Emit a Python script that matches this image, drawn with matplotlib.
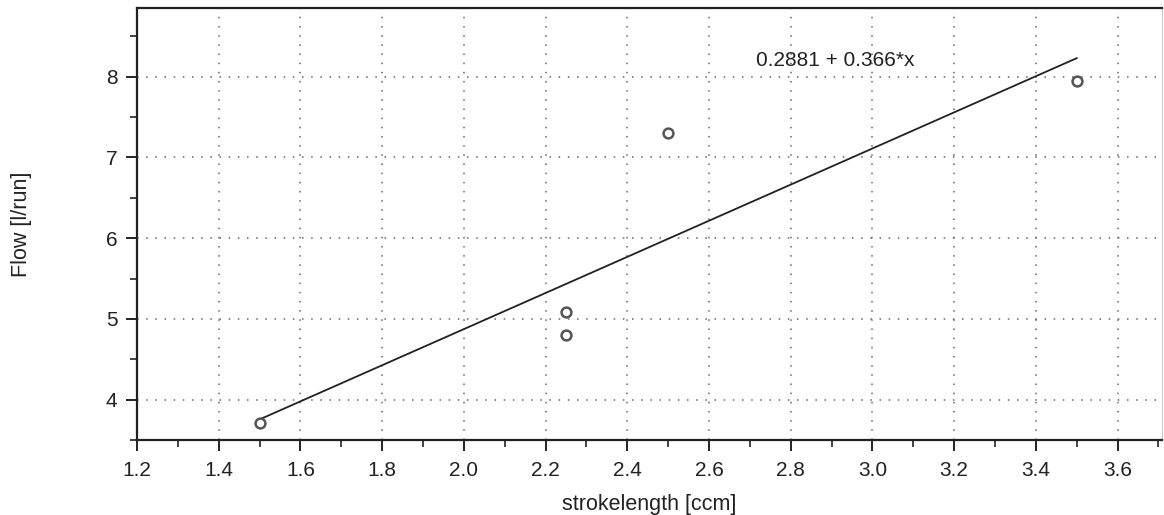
import numpy as np
import matplotlib
matplotlib.use("Agg")
import matplotlib.pyplot as plt
from matplotlib.ticker import MultipleLocator, FormatStrFormatter

plt.rcParams['font.family'] = ['Liberation Sans', 'DejaVu Sans']

# data
stroke = [1.5, 2.25, 2.25, 2.5, 3.5]
flow = [3.71, 4.80, 5.09, 7.30, 7.94]
fit_label = "0.2881 + 0.366*x"

slope, intercept = np.polyfit(stroke, flow, 1)
xfit = np.array([min(stroke), max(stroke)])
yfit = intercept + slope * xfit

fig = plt.figure(figsize=(11.64, 5.15), dpi=100)
ax = fig.add_axes([0.1177, 0.1456, 0.8803, 0.8389])

ax.plot(xfit, yfit, color='#222222', lw=1.3, zorder=3)
ax.scatter(stroke, flow, s=50, facecolors='white', edgecolors='#555555',
           linewidths=1.8, zorder=4)
ax.text(2.715, 8.2, fit_label, fontsize=15, va='center', ha='left', color='#222222')

ax.set_xlim(1.2, 3.708)
ax.set_ylim(3.5, 8.85)
ax.xaxis.set_major_locator(MultipleLocator(0.2))
ax.xaxis.set_minor_locator(MultipleLocator(0.1))
ax.yaxis.set_major_locator(MultipleLocator(1))
ax.yaxis.set_minor_locator(MultipleLocator(0.5))
ax.xaxis.set_major_formatter(FormatStrFormatter('%.1f'))

ax.grid(True, which='major', linestyle=(0, (1, 5)), color='#666666', lw=1.1)
ax.spines['right'].set_color('#cccccc')
ax.spines['right'].set_linewidth(0.8)
for s in ['left', 'bottom', 'top']:
    ax.spines[s].set_linewidth(1.6)
    ax.spines[s].set_color('#222222')

ax.tick_params(which='major', direction='out', length=8, width=1.4,
               labelsize=15, colors='#222222')
ax.tick_params(which='minor', direction='out', length=5, width=1.2, colors='#222222')
ax.tick_params(axis='x', which='major', pad=7)
ax.tick_params(axis='y', which='major', pad=6)
ax.tick_params(axis='y', which='both', right=False)

ax.set_xlabel("strokelength [ccm]", fontsize=15.5, color='#222222')
ax.set_ylabel("Flow [l/run]", fontsize=15.5, color='#222222')
ax.xaxis.set_label_coords(0.5, -0.125)
ax.yaxis.set_label_coords(-0.102, 0.5)

fig.savefig("out.png", dpi=100)
